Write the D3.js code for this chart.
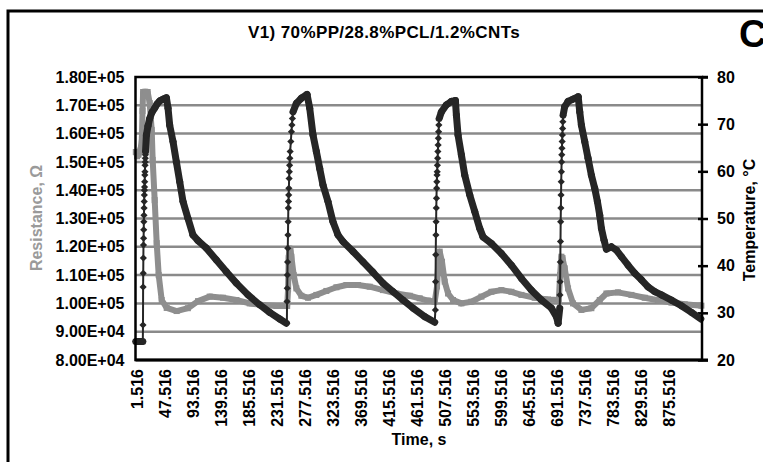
<!DOCTYPE html>
<html>
<head>
<meta charset="utf-8">
<script src="https://cdn.jsdelivr.net/npm/d3@7/dist/d3.min.js"></script>
<style>
  html, body { margin: 0; padding: 0; background: #fff; }
  svg { display: block; font-family: "Liberation Sans", Arial, sans-serif; font-weight: bold; }
</style>
</head>
<body>
<svg id="chart" width="763" height="462"></svg>
<script>
// Chart text
const chartTitle = "V1) 70%PP/28.8%PCL/1.2%CNTs";
const panelLetter = "C";

// Axis ticks
const timeTicks = [1.516, 47.516, 93.516, 139.516, 185.516, 231.516, 277.516, 323.516, 369.516, 415.516,
  461.516, 507.516, 553.516, 599.516, 645.516, 691.516, 737.516, 783.516, 829.516, 875.516];
const resTicks = [80000, 90000, 100000, 110000, 120000, 130000, 140000, 150000, 160000, 170000, 180000];
const tempTicks = [20, 30, 40, 50, 60, 70, 80];

// Temperature series (s, °C)
const tempTime = [
  0.5, 3.5, 6.5, 9.5, 12.0,
  12.3, 12.5, 12.7, 12.9, 13.1, 13.3, 13.5, 13.7, 13.9, 14.1, 14.3, 14.5, 14.7, 14.9, 15.1, 15.3, 15.5, 15.7, 15.9, 16.1, 16.3, 16.5,
  17.9, 20.5, 23.3, 27.0, 31.5, 35.5, 39.7, 45.0, 50.7,
  53.4, 56.1, 61.6, 67.1, 72.6, 78.0, 86.2, 94.4, 102.6, 116.4, 132.8, 149.2, 165.6, 184.7, 203.9, 220.3, 236.7, 247.7,
  248.5, 248.8, 249.1, 249.4, 249.7, 250.0, 250.3, 250.6, 250.9, 251.2, 251.5, 251.8, 252.2, 252.6, 253.0, 253.4, 253.9,
  255.0, 256.0, 256.8, 257.6, 258.6, 264.1, 272.3, 281.6,
  286.0, 291.4, 296.9, 302.4, 307.8, 316.0, 324.2, 332.5, 340.7, 357.1, 373.5, 389.9, 406.3, 422.8, 439.2, 455.6, 474.8, 491.2,
  492.3, 492.6, 492.9, 493.2, 493.5, 493.8, 494.1, 494.4, 494.7, 495.0, 495.3, 495.6, 496.0, 496.4, 496.8, 497.2, 497.6, 498.0, 498.5,
  502.2, 510.4, 518.6, 525.2,
  526.8, 529.5, 535.0, 540.5, 548.7, 556.9, 565.1, 570.6, 584.3, 600.7, 617.1, 633.6, 650.0, 666.4, 682.8, 691.0, 693.8,
  696.5, 696.8, 697.1, 697.4, 697.7, 698.0, 698.3, 698.6, 698.9, 699.2, 699.5, 699.8, 700.1, 700.4, 700.8, 701.2, 701.6, 702.0,
  704.6, 710.1, 718.3, 726.8,
  729.3, 732.0, 737.5, 742.9, 748.4, 753.9, 758.3, 762.1, 764.9, 769.2, 773.1, 781.3, 789.5, 797.7, 808.6, 819.6, 830.6, 841.4,
  852.4, 863.4, 879.8, 896.2, 912.7, 928.0
];
const tempC = [
  23.9, 23.9, 23.9, 23.9, 23.9,
  27.4, 35.5, 38.4, 41.6, 44.4, 45.8, 47.6, 49.3, 50.7, 52.2, 53.6, 55.0, 56.0, 56.7, 57.8, 59.2, 59.9, 61.3, 62.0, 62.8, 63.5, 64.2,
  67.7, 69.6, 71.2, 72.5, 73.4, 74.3, 74.9, 75.3, 75.6,
  73.4, 69.8, 66.3, 62.0, 57.8, 53.6, 50.0, 46.5, 45.3, 43.7, 41.2, 38.7, 36.3, 33.8, 31.7, 30.1, 28.7, 27.8,
  27.8, 32.4, 35.2, 38.0, 40.8, 43.7, 46.5, 49.3, 52.2, 53.6, 55.0, 56.4, 58.5, 59.9, 61.3, 62.8, 64.2,
  66.3, 68.4, 69.8, 71.2, 72.6, 74.4, 75.5, 76.3,
  73.4, 67.7, 64.2, 60.6, 57.1, 53.6, 49.3, 46.5, 45.1, 43.0, 40.8, 38.6, 36.3, 34.5, 32.7, 31.0, 29.2, 28.0,
  30.6, 36.6, 42.3, 46.5, 49.3, 52.2, 54.3, 56.4, 57.8, 59.2, 59.9, 61.3, 62.8, 64.2, 65.6, 67.0, 68.4, 69.8, 71.2,
  72.6, 74.1, 74.8, 75.0,
  71.9, 67.7, 63.5, 59.2, 55.0, 51.5, 47.9, 46.1, 44.7, 42.6, 40.1, 37.3, 34.8, 32.7, 31.0, 29.2, 27.8,
  31.0, 33.8, 36.6, 40.8, 45.1, 49.3, 52.2, 55.0, 57.8, 59.9, 62.0, 63.5, 64.9, 66.3, 67.7, 69.1, 70.5, 71.9,
  73.7, 74.8, 75.3, 75.8,
  72.6, 69.8, 66.3, 62.8, 59.2, 56.4, 53.6, 50.7, 47.9, 45.4, 43.5, 44.0, 43.3, 41.9, 40.1, 38.4, 37.0, 35.5,
  34.5, 33.8, 32.7, 31.5, 30.1, 28.7
];

// Resistance series (s, Ohm)
const resTime = [
  0.5, 2.5, 5.0, 8.0, 10.5, 11.5, 12.5, 16.0, 20.0, 23.3, 26.6, 28.2, 31.5, 34.8, 38.1, 43.0, 51.2, 67.6, 86.0,
  102.6, 121.8, 143.7, 165.6, 187.5, 209.4, 231.3, 249.0,
  250.5, 251.5, 252.5, 254.5, 255.9, 259.7, 264.1, 272.3, 283.2, 296.9, 313.3, 329.8, 346.2, 365.3, 384.5, 406.3,
  428.3, 450.2, 466.6, 480.0, 491.2,
  495.0, 497.0, 499.4, 503.2, 507.6, 513.1, 521.3, 535.0, 551.4, 567.9, 584.3, 600.7, 617.1, 633.6, 655.4, 677.2, 695.0,
  697.0, 699.2, 701.0, 704.6, 710.1, 718.3, 732.0, 748.4, 762.1, 773.1, 792.2, 814.1, 836.0, 857.8, 879.8, 901.6, 929.0
];
const resOhm = [
  153500, 152000, 152500, 154000, 158000, 168000, 174700, 174800, 174700, 170800, 161300, 150700, 136500, 121300, 110000, 101200, 98400, 97300, 98300,
  100800, 102400, 102000, 101200, 100000, 99400, 99100, 99100,
  105000, 116000, 119400, 118500, 116500, 110000, 105300, 102700, 102000, 103000, 104400, 105700, 106500, 106500, 105900, 104700,
  103500, 102700, 101800, 101000, 100600,
  106000, 114000, 118300, 114700, 107700, 103500, 101200, 100000, 100600, 102400, 104100, 104700, 104100, 103000, 102000, 101400, 101200,
  110000, 116500, 116000, 112400, 105300, 100000, 97700, 98300, 101200, 103500, 103900, 103000, 102000, 101100, 100300, 99700, 99200
];

const svg = d3.select("#chart");
const plot = { left: 135.5, top: 77, right: 702, bottom: 360 };

const x = d3.scaleLinear().domain([0, 930]).range([plot.left, plot.right]);
const yRes = d3.scaleLinear().domain([80000, 180000]).range([plot.bottom, plot.top]);
const yTemp = d3.scaleLinear().domain([20, 80]).range([plot.bottom, plot.top]);

function sci(d) {
  const e = Math.floor(Math.log10(d));
  const m = d / Math.pow(10, e);
  return m.toFixed(2) + "E+" + String(e).padStart(2, "0");
}

// outer frame
svg.append("rect")
  .attr("x", 8).attr("y", 11)
  .attr("width", 800).attr("height", 500)
  .attr("fill", "none").attr("stroke", "#000").attr("stroke-width", 3);

// title and panel letter
svg.append("text")
  .attr("x", 384).attr("y", 38)
  .attr("text-anchor", "middle")
  .style("font-size", "17px")
  .style("letter-spacing", "0.4px")
  .text(chartTitle);

svg.append("text")
  .attr("x", 739).attr("y", 47)
  .style("font-size", "38px")
  .text(panelLetter);

// gridlines
svg.append("g")
  .selectAll("line")
  .data(resTicks.slice(1, -1))
  .join("line")
  .attr("x1", plot.left).attr("x2", plot.right)
  .attr("y1", d => yRes(d)).attr("y2", d => yRes(d))
  .attr("stroke", "#8a8a8a").attr("stroke-width", 2.5);

// left axis
const gLeft = svg.append("g")
  .attr("transform", `translate(${plot.left},0)`)
  .call(d3.axisLeft(yRes).tickValues(resTicks).tickFormat(sci).tickSize(0).tickPadding(11));
gLeft.select(".domain").remove();
gLeft.selectAll("text").style("font-size", "16px").style("font-family", null).attr("fill", "#000");

// right axis
const gRight = svg.append("g")
  .attr("transform", `translate(${plot.right},0)`)
  .call(d3.axisRight(yTemp).tickValues(tempTicks).tickSize(6).tickPadding(9));
gRight.select(".domain").remove();
gRight.selectAll(".tick line").attr("x1", -4).attr("stroke", "#000").attr("stroke-width", 2.5);
gRight.selectAll("text").style("font-size", "16px").style("font-family", null).attr("fill", "#000");

// bottom axis
const gBottom = svg.append("g")
  .attr("transform", `translate(0,${plot.bottom})`)
  .call(d3.axisBottom(x).tickValues(timeTicks).tickFormat(d => String(d)).tickSize(0));
gBottom.select(".domain").remove();
gBottom.selectAll("text")
  .style("font-size", "16px").style("font-family", null).attr("fill", "#000")
  .attr("transform", "rotate(-90)")
  .attr("x", -9).attr("y", 0).attr("dy", "0.36em")
  .style("text-anchor", "end");

// resistance series
const resData = resTime.map((t, i) => [t, resOhm[i]]);
const resLine = d3.line().x(d => x(d[0])).y(d => yRes(d[1]));
svg.append("path")
  .datum(resData)
  .attr("d", resLine)
  .attr("fill", "none")
  .attr("stroke", "#8e8e8e")
  .attr("stroke-width", 6)
  .attr("stroke-linejoin", "round");
svg.append("g")
  .selectAll("rect")
  .data(resData)
  .join("rect")
  .attr("x", d => x(d[0]) - 3).attr("y", d => yRes(d[1]) - 3)
  .attr("width", 6).attr("height", 6)
  .attr("fill", "#8e8e8e");

// temperature series
const tempData = tempTime.map((t, i) => [t, tempC[i]]);
const tempLine = d3.line().x(d => x(d[0])).y(d => yTemp(d[1]));
svg.append("path")
  .datum(tempData)
  .attr("d", tempLine)
  .attr("fill", "none")
  .attr("stroke", "#262626")
  .attr("stroke-width", 2);

// overlapping markers form a band where points are spread along x
const bandSegs = d3.pairs(tempData).filter(([a, b]) => Math.abs(x(b[0]) - x(a[0])) >= 0.7);
svg.append("g")
  .selectAll("line")
  .data(bandSegs)
  .join("line")
  .attr("x1", d => x(d[0][0])).attr("y1", d => yTemp(d[0][1]))
  .attr("x2", d => x(d[1][0])).attr("y2", d => yTemp(d[1][1]))
  .attr("stroke", "#262626")
  .attr("stroke-width", 7)
  .attr("stroke-linecap", "round");

svg.append("g")
  .selectAll("path")
  .data(tempData)
  .join("path")
  .attr("transform", d => `translate(${x(d[0])},${yTemp(d[1])})`)
  .attr("d", "M0,-3.5L3.6,0L0,3.5L-3.6,0Z")
  .attr("fill", "#262626");

// plot border
svg.append("rect")
  .attr("x", plot.left).attr("y", plot.top)
  .attr("width", plot.right - plot.left).attr("height", plot.bottom - plot.top)
  .attr("fill", "none").attr("stroke", "#000").attr("stroke-width", 2.5);
svg.append("line")
  .attr("x1", plot.left).attr("x2", plot.right + 6)
  .attr("y1", plot.bottom).attr("y2", plot.bottom)
  .attr("stroke", "#000").attr("stroke-width", 3);
svg.append("line")
  .attr("x1", plot.right).attr("x2", plot.right + 6)
  .attr("y1", plot.top).attr("y2", plot.top)
  .attr("stroke", "#000").attr("stroke-width", 2.5);

// axis titles
svg.append("text")
  .attr("transform", "translate(42,218) rotate(-90)")
  .attr("text-anchor", "middle")
  .attr("fill", "#9a9a9a")
  .style("font-size", "16px")
  .text("Resistance, Ω");

svg.append("text")
  .attr("transform", "translate(755,220) rotate(-90)")
  .attr("text-anchor", "middle")
  .style("font-size", "16px")
  .text("Temperature, °C");

svg.append("text")
  .attr("x", 419).attr("y", 445)
  .attr("text-anchor", "middle")
  .style("font-size", "16px")
  .text("Time, s");
</script>
</body>
</html>
